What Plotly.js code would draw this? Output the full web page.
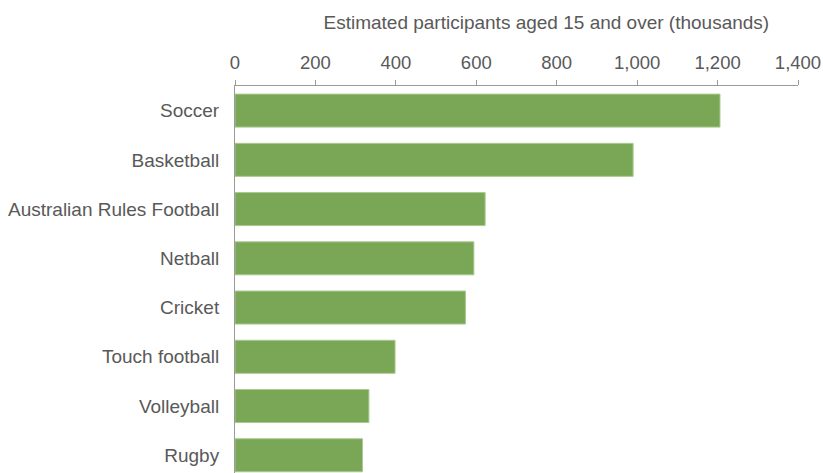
<!DOCTYPE html>
<html>
<head>
<meta charset="utf-8">
<script src="https://cdn.plot.ly/plotly-3.0.1.min.js"></script>
<style>
  html, body { margin: 0; padding: 0; background: #fff; }
  #chart { width: 823px; height: 473px; }
</style>
</head>
<body>
<div id="chart"></div>
<script>
// sports, top to bottom
const sports = ["Soccer", "Basketball", "Australian Rules Football", "Netball",
                "Cricket", "Touch football", "Volleyball", "Rugby"];
// participants aged 15+ (thousands)
const participants = [1206, 990, 622, 594, 573, 398, 333, 317];
const xTicks = [0, 200, 400, 600, 800, 1000, 1200, 1400];

const grey = "#595959";
const fontFamily = "Liberation Sans, Arial, sans-serif";
const fs = 18.5;

const trace = {
    type: "bar",
    orientation: "h",
    y: sports,
    x: participants,
    width: 0.67,
    marker: {color: "#79a755", line: {width: 1, color: "#a9c98f"}},
    hoverinfo: "x+y"
};

const layout = {
    width: 823,
    height: 473,
    margin: {l: 235, r: 25, t: 86, b: 0},
    paper_bgcolor: "#fff",
    plot_bgcolor: "#fff",
    showlegend: false,
    font: {family: fontFamily, size: fs, color: grey},
    // axis title sits a bit right of the plot centre in the original
    title: {
        text: "Estimated participants aged 15 and over (thousands)",
        font: {size: 19, color: grey},
        xref: "paper", x: 0.553, xanchor: "center",
        yref: "container", y: 0.953, yanchor: "middle"
    },
    xaxis: {
        side: "top",
        range: [0, 1400],
        tickvals: xTicks,
        tickformat: ",d",
        showgrid: false,
        zeroline: false,
        showline: true,
        linecolor: "#9a9a9a",
        linewidth: 1,
        ticks: "outside",
        ticklen: 5,
        tickcolor: "#9a9a9a",
        ticklabelstandoff: 4,
        tickfont: {size: fs, color: grey}
    },
    yaxis: {
        type: "category",
        range: [7.36, -0.5],
        showgrid: false,
        zeroline: false,
        showline: true,
        linecolor: "#9a9a9a",
        linewidth: 1,
        ticks: "",
        ticklabelstandoff: 11,
        tickfont: {size: 19, color: grey}
    }
};

Plotly.newPlot("chart", [trace], layout, {displayModeBar: false, staticPlot: true});
</script>
</body>
</html>
